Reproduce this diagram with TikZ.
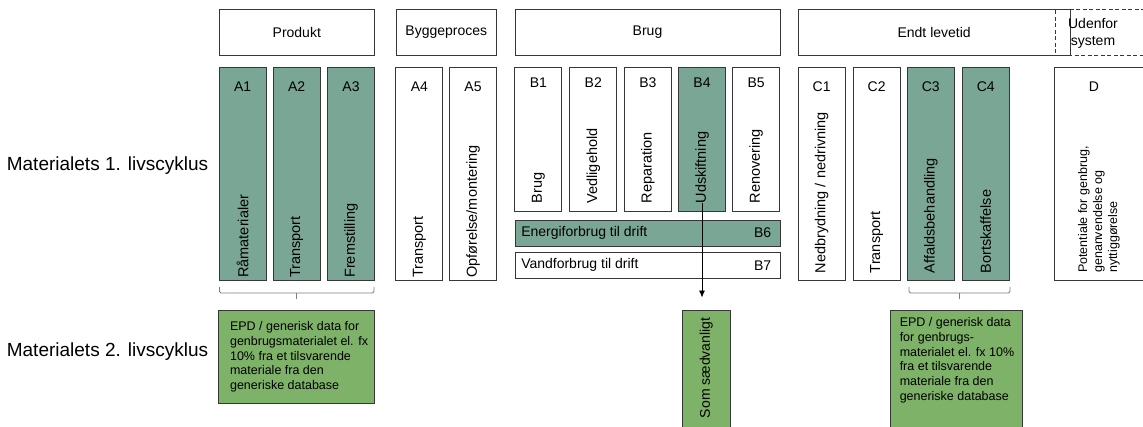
\documentclass[tikz,border=0pt]{standalone}
\usepackage{fontspec}
\setmainfont{Liberation Sans}
\usepackage{xcolor}
\usepackage{tikz}
\usetikzlibrary{arrows.meta, positioning, calc}
\definecolor{moduleteal}{RGB}{122,166,150}
\definecolor{datagreen}{RGB}{126,178,104}
\definecolor{boxline}{RGB}{55,55,55}
\definecolor{bracegray}{RGB}{125,125,125}

\begin{document}
\begin{tikzpicture}[x=1pt, y=-1pt,
    hdr/.style={draw=boxline, line width=0.9pt, minimum height=45.7pt, inner sep=0pt, font=\fontsize{14}{16}\selectfont},
    module/.style={draw=boxline, line width=0.9pt, inner sep=0pt},
    epd/.style={draw=boxline, line width=0.9pt, fill=datagreen, inner sep=0pt},
    code/.style={inner sep=0pt, font=\fontsize{14}{16}\selectfont},
    vlabel/.style={rotate=90, anchor=west, inner sep=0pt, font=\fontsize{14.5}{16}\selectfont},
    plain/.style={inner sep=0pt, font=\fontsize{14}{16}\selectfont},
    epdtext/.style={inner sep=0pt, align=left, anchor=north west, font=\fontsize{12.5}{14.7}\selectfont},
    side/.style={inner sep=0pt, font=\fontsize{19}{22}\selectfont},
    bracket/.style={draw=bracegray, line width=0.9pt, rounded corners=1.5pt}
  ]
    \path[use as bounding box, clip] (0,0) rectangle (1143,427);

    % Life cycle labels
    \node[side] (life1) at (107.5,166) {Materialets 1. livscyklus};
    \node[side] (life2) at (107.5,352) {Materialets 2. livscyklus};

    % Stage headers
    \foreach \n/\x/\w/\t in {prod/296.8/155/Produkt, bygg/446.35/100.7/Byggeproces, brug/647.5/265/Brug, endt/934.15/271.7/Endt levetid}
        \node[hdr, minimum width=\w pt] (\n) at (\x,32.15) {\t};
    \node[hdr, dash pattern=on 4pt off 2.5pt, minimum width=110pt] (uden) at (1110,32.15) {};
    \node[plain, align=center, font=\fontsize{14}{17}\selectfont] (uden-txt) at (1093,33) {Udenfor\\system};

    % Product and construction modules
    \foreach \n/\x/\f/\t in {A1/242.65/moduleteal/Råmaterialer, A2/296.65/moduleteal/Transport, A3/351/moduleteal/Fremstilling, A4/419.35/white/Transport, A5/473/white/{Opførelse/montering}}{
        \node[module, fill=\f, minimum width=47pt, minimum height=212.7pt] (\n) at (\x,173.65) {};
        \node[code] (\n-id) at (\x,87) {\n};
        \node[vlabel] (\n-txt) at ([yshift=2.5pt]\n.south) {\t};
    }

    % Use stage modules
    \foreach \n/\x/\f/\t in {B1/538.35/white/Brug, B2/593.3/white/Vedligehold, B3/647.85/white/Reparation, B4/702/moduleteal/Udskiftning, B5/756.15/white/Renovering}{
        \node[module, fill=\f, minimum width=47pt, minimum height=144.4pt] (\n) at (\x,139.5) {};
        \node[code] (\n-id) at (\x,83) {\n};
        \node[vlabel] (\n-txt) at ([yshift=8.5pt]\n.south) {\t};
    }
    \node[module, fill=moduleteal, minimum width=265pt, minimum height=26pt] (B6) at (647.5,233) {};
    \node[plain, anchor=west] (B6-txt) at ([xshift=6.5pt]B6.west) {Energiforbrug til drift};
    \node[plain, anchor=east] (B6-id) at ([xshift=-9pt]B6.east) {B6};
    \node[module, fill=white, minimum width=265pt, minimum height=26pt] (B7) at (647.5,265.3) {};
    \node[plain, anchor=west] (B7-txt) at ([xshift=6.5pt]B7.west) {Vandforbrug til drift};
    \node[plain, anchor=east] (B7-id) at ([xshift=-9pt]B7.east) {B7};

    % End of life modules
    \foreach \n/\x/\f/\t in {C1/821.65/white/{Nedbrydning / nedrivning}, C2/876.65/white/Transport, C3/930.8/moduleteal/Affaldsbehandling, C4/985.8/moduleteal/Bortskaffelse}{
        \node[module, fill=\f, minimum width=47pt, minimum height=212.7pt] (\n) at (\x,173.65) {};
        \node[code] (\n-id) at (\x,87) {\n};
        \node[vlabel] (\n-txt) at ([yshift=7pt]\n.south) {\t};
    }

    % Module D
    \node[module, fill=white, minimum width=110pt, minimum height=212.7pt] (D) at (1109,173.65) {};
    \node[code] (D-id) at (1094,87) {D};
    \node[vlabel, align=left, font=\fontsize{12.5}{15}\selectfont] (D-txt) at (1099,273) {Potentiale for genbrug,\\genanvendelse og\\nyttiggørelse};

    % Second life cycle
    \node[epd, minimum width=156pt, minimum height=93.3pt] (epdA) at (296.3,356.65) {};
    \node[epdtext] (epdA-txt) at ([xshift=12pt,yshift=-12pt]epdA.north west) {EPD / generisk data for\\genbrugsmaterialet el. fx\\10\% fra et tilsvarende\\materiale fra den\\generiske database};
    \node[epd, minimum width=47.3pt, minimum height=130pt] (som) at (706.35,375) {};
    \node[vlabel, font=\fontsize{14}{16}\selectfont] (som-txt) at (706.35,418.3) {Som sædvanligt};
    \node[epd, minimum width=132.7pt, minimum height=130pt] (epdC) at (956.35,375) {};
    \node[epdtext] (epdC-txt) at ([xshift=10pt,yshift=-8pt]epdC.north west) {EPD / generisk data\\for genbrugs-\\materialet el. fx 10\%\\fra et tilsvarende\\materiale fra den\\generiske database};

    % Brackets
    \draw[bracket] (219.5,287) -- (219.5,293) -- (374,293) -- (374,287);
    \draw[bracket] (296.8,293) -- (296.8,299);
    \draw[bracket] (909,287) -- (909,293) -- (1010,293) -- (1010,287);
    \draw[bracket] (959.5,293) -- (959.5,299);

    % Replacement arrow
    \draw[-{Latex[length=7pt,width=6pt]}, line width=0.9pt, shorten >=12pt] ([yshift=9pt]B4.south) -- (B4.south |- som.north);
\end{tikzpicture}
\end{document}
